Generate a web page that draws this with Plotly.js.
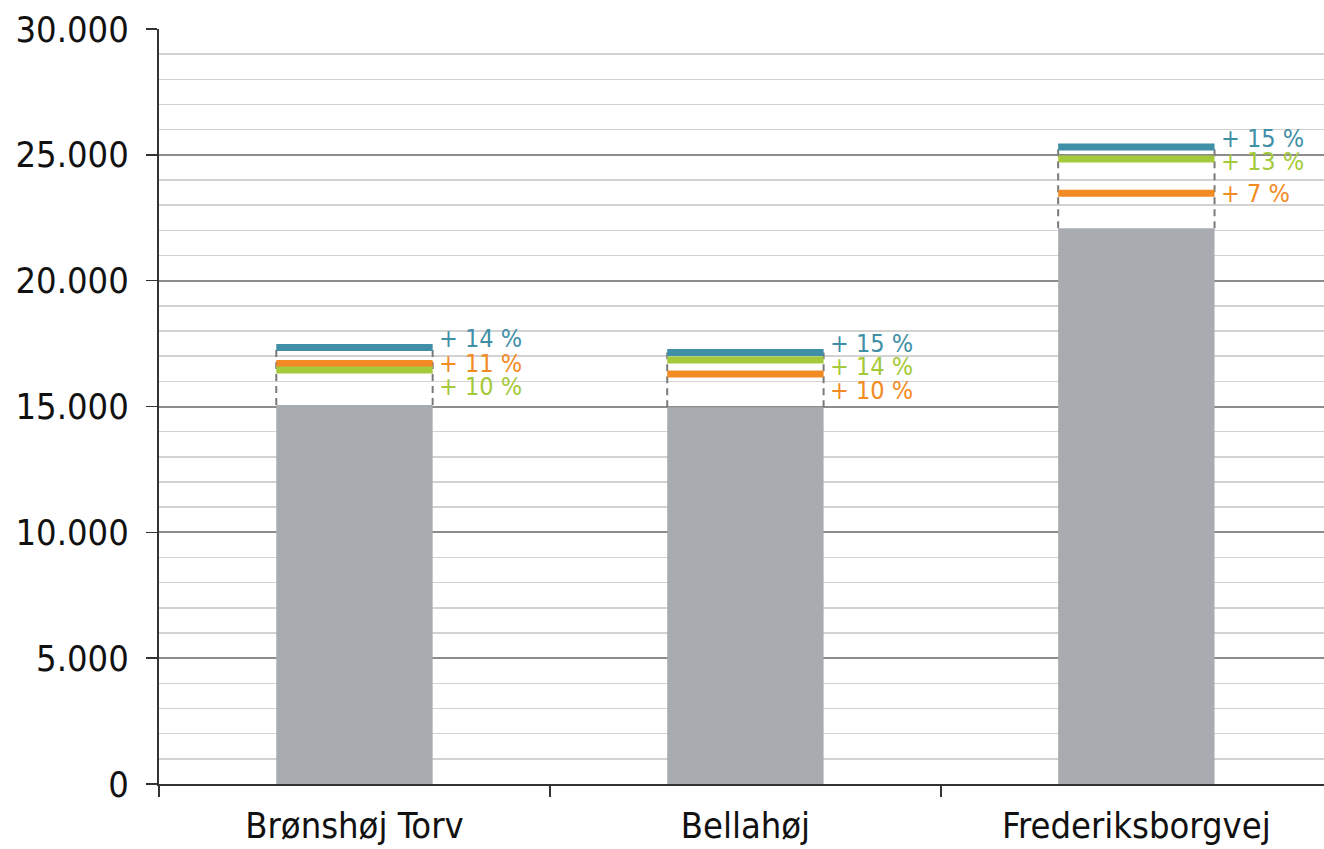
<!DOCTYPE html>
<html>
<head>
<meta charset="utf-8">
<script src="https://cdn.plot.ly/plotly-3.0.1.min.js"></script>
<style>html,body{margin:0;padding:0;background:#fff;}#chart{width:1324px;height:849px;}</style>
</head>
<body>
<div id="chart"></div>
<script>
const categories = ['Brønshøj Torv', 'Bellahøj', 'Frederiksborgvej'];
const baseValues = [15060, 14970, 22080];
const tealValues = [17345, 17150, 25310];
const orangeValues = [16710, 16290, 23470];
const greenValues = [16450, 16850, 24835];
const tealLabels = ['+ 14 %', '+ 15 %', '+ 15 %'];
const orangeLabels = ['+ 11 %', '+ 10 %', '+ 7 %'];
const greenLabels = ['+ 10 %', '+ 14 %', '+ 13 %'];
const yTickVals = [0, 5000, 10000, 15000, 20000, 25000, 30000];
const yTickText = ['0', '5.000', '10.000', '15.000', '20.000', '25.000', '30.000'];

const W = 1324, H = 849;
const M = {l: 159, r: 0, t: 29, b: 65};
const yMax = 30000;
const plotH = H - M.t - M.b;
const pxPerUnit = plotH / yMax;
const half = 0.2;
const font = '"DejaVu Sans Condensed", "DejaVu Sans", sans-serif';

const series = [
  {vals: tealValues, labels: tealLabels, color: '#3F8FA7'},
  {vals: orangeValues, labels: orangeLabels, color: '#F28B24'},
  {vals: greenValues, labels: greenLabels, color: '#A4C93A'}
];

const traces = [{
  type: 'bar', x: categories, y: baseValues, width: 0.4,
  marker: {color: '#A8ABAF'}, hoverinfo: 'skip', xaxis: 'x', yaxis: 'y'
}];

// dashed edges
const dx = [], dy = [];
categories.forEach((c, i) => {
  const top = Math.max(tealValues[i], orangeValues[i], greenValues[i]);
  dx.push(i - half, i - half, null, i + half, i + half, null);
  dy.push(baseValues[i], top, null, baseValues[i], top, null);
});
traces.push({type: 'scatter', mode: 'lines', x: dx, y: dy, xaxis: 'x2', yaxis: 'y',
  line: {color: '#7a7a7a', width: 2, dash: '7px,5px'}, hoverinfo: 'skip', connectgaps: false});

series.forEach(s => {
  const x = [], y = [];
  s.vals.forEach((v, i) => { x.push(i - half, i + half, null); y.push(v, v, null); });
  traces.push({type: 'scatter', mode: 'lines', x, y, xaxis: 'x2', yaxis: 'y',
    line: {color: s.color, width: 7}, hoverinfo: 'skip'});
});

const annotations = [];
categories.forEach((c, i) => {
  const items = series.map(s => ({v: s.vals[i], t: s.labels[i], color: s.color}))
    .sort((a, b) => b.v - a.v);
  let prevPx = null;
  items.forEach((it, k) => {
    const linePx = (yMax - it.v) * pxPerUnit;
    let labPx = k === 0 ? linePx - 9 : Math.max(linePx, prevPx + 23.5);
    prevPx = labPx;
    annotations.push({
      xref: 'x2', yref: 'y', x: i + half, y: it.v, xanchor: 'left', yanchor: 'middle',
      xshift: 4, yshift: -(labPx - linePx), text: it.t, showarrow: false,
      font: {family: font, size: 25, color: it.color}
    });
  });
});

const layout = {
  width: W, height: H, margin: M,
  paper_bgcolor: '#fff', plot_bgcolor: '#fff', showlegend: false,
  xaxis: {
    type: 'category', range: [-0.5, 2.48], tickson: 'boundaries',
    ticks: 'outside', ticklen: 11, tickwidth: 1.5, tickcolor: '#333',
    showline: true, linecolor: '#333', linewidth: 2, showgrid: false,
    tickfont: {family: font, size: 36, color: '#111'}, ticklabelstandoff: 9,
    fixedrange: true, zeroline: false
  },
  xaxis2: {overlaying: 'x', range: [-0.5, 2.48], visible: false, fixedrange: true},
  yaxis: {
    range: [0, yMax], tickvals: yTickVals, ticktext: yTickText,
    ticks: 'outside', ticklen: 11, tickwidth: 1.5, tickcolor: '#333',
    showline: true, linecolor: '#333', linewidth: 2,
    showgrid: true, gridcolor: '#8c8c8c', gridwidth: 2, zeroline: false,
    minor: {dtick: 1000, showgrid: true, gridcolor: '#d2d2d2', gridwidth: 1.5, ticks: ''},
    tickfont: {family: font, size: 36, color: '#111'}, ticklabelstandoff: 10, fixedrange: true
  },
  annotations
};

Plotly.newPlot('chart', traces, layout, {displayModeBar: false, staticPlot: true});
</script>
</body>
</html>
